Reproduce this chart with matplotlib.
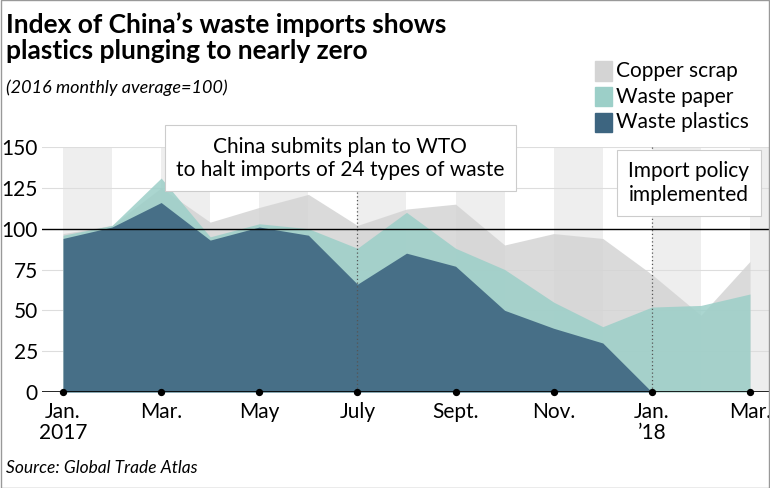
import matplotlib
matplotlib.use("Agg")
import matplotlib.pyplot as plt
import numpy as np

plt.rcParams['font.family'] = ['Lato', 'DejaVu Sans']

months = list(range(15))
copper = [97, 102, 125, 104, 113, 121, 102, 112, 115, 90, 97, 94, 72, 47, 80]
paper = [96, 102, 131, 95, 103, 100, 88, 110, 88, 75, 55, 40, 52, 53, 60]
plastics = [94, 101, 116, 93, 101, 96, 66, 85, 77, 50, 39, 30, 0]
tick_pos = [0, 2, 4, 6, 8, 10, 12, 14]
tick_labels = ["Jan.\n2017", "Mar.", "May", "July", "Sept.", "Nov.", "Jan.\n\u201918", "Mar."]

fig = plt.figure(figsize=(7.7, 4.88), dpi=100)
ax = fig.add_axes([42/770, (488-392)/488, 728/770, 245/488])
px_per_month = 687/14
ax.set_xlim(-21/px_per_month, 14 + 20/px_per_month)
ax.set_ylim(0, 150)

for s in range(0, 15, 2):
    ax.axvspan(s, s+1, color="#eeeeee", zorder=0, lw=0)
for y in [25, 50, 75, 125, 150]:
    ax.axhline(y, color="#dddddd", lw=0.8, zorder=0.5)

ax.fill_between(months, copper, color="#d4d4d4", alpha=0.85, lw=0, zorder=1)
ax.fill_between(months, paper, color="#9ccfc8", alpha=0.85, lw=0, zorder=2)
ax.fill_between(months[:len(plastics)], plastics, color="#3d6580", alpha=0.9, lw=0, zorder=3)

ax.axhline(100, color="black", lw=1, zorder=4)
ax.axhline(0, color="black", lw=1.2, zorder=4)
ax.scatter(tick_pos, [0]*len(tick_pos), color="black", s=18, zorder=6, clip_on=False)
for xv in [6, 12]:
    ax.axvline(xv, color="#555555", lw=0.9, ls=(0, (1, 2)), zorder=5)

for s in ax.spines.values():
    s.set_visible(False)
ax.set_yticks([0, 25, 50, 75, 100, 125, 150])
ax.tick_params(axis="y", length=0, labelsize=15, pad=3)
ax.set_xticks(tick_pos)
ax.set_xticklabels(tick_labels, fontsize=15, linespacing=1.05)
ax.tick_params(axis="x", length=0, pad=7)

bbox = dict(boxstyle="square,pad=0.55", fc="white", ec="#cccccc", lw=0.8)
ax.text(5.65, 143, "China submits plan to WTO\nto halt imports of 24 types of waste",
        ha="center", va="center", fontsize=15, bbox=bbox, zorder=7, linespacing=1.2)
ax.text(12.75, 128, "Import policy\nimplemented", ha="center", va="center",
        fontsize=15, bbox=bbox, zorder=7, linespacing=1.2)

fig.text(0.008, 0.975, "Index of China\u2019s waste imports shows\nplastics plunging to nearly zero",
         fontsize=19, fontweight="bold", va="top", linespacing=1.1)
fig.text(0.008, 0.838, "(2016 monthly average=100)", fontsize=13, style="italic", va="top")
fig.text(0.008, 0.04, "Source: Global Trade Atlas", fontsize=12.5, style="italic", va="center")

items = [("Copper scrap", "#d4d4d4"), ("Waste paper", "#9ccfc8"), ("Waste plastics", "#3d6580")]
for i, (name, c) in enumerate(items):
    yy = 0.855 - i * 0.053
    fig.patches.append(plt.Rectangle((0.773, yy - 0.02), 0.022, 0.04, color=c, transform=fig.transFigure))
    fig.text(0.800, yy, name, fontsize=15, va="center")

fig.patches.append(plt.Rectangle((0.001, 0.001), 0.998, 0.998, fill=False, ec="#999999", lw=1, transform=fig.transFigure))
fig.savefig("out.png", dpi=100)
